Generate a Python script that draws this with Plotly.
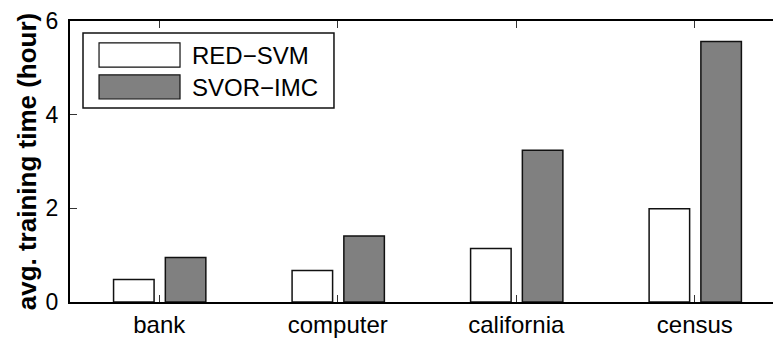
import plotly.graph_objects as go

categories = ["bank", "computer", "california", "census"]
series_names = ["RED\u2212SVM", "SVOR\u2212IMC"]
red_svm = [0.48, 0.67, 1.14, 1.99]
svor_imc = [0.95, 1.41, 3.24, 5.56]
y_ticks = [0, 2, 4, 6]

positions = list(range(1, len(categories) + 1))
FONT = "Liberation Sans, Arial, Helvetica, sans-serif"

fig = go.Figure()
fig.add_trace(go.Bar(x=positions, y=red_svm, name=series_names[0],
                     width=0.227, offset=-0.256,
                     marker=dict(color="white", line=dict(color="#111", width=1.5)),
                     showlegend=False))
fig.add_trace(go.Bar(x=positions, y=svor_imc, name=series_names[1],
                     width=0.227, offset=0.034,
                     marker=dict(color="#808080", line=dict(color="#111", width=1.5)),
                     showlegend=False))

# custom legend (large swatches as in the reference)
box = dict(x0=0.0185, x1=0.3755, y0=0.690, y1=0.957)
fig.add_shape(type="rect", xref="paper", yref="paper", **box,
              line=dict(color="#111", width=1.5), fillcolor="white", layer="above")
swatches = [("white", 0.836, 0.922, 0.879), ("#808080", 0.7224, 0.808, 0.765)]
for name, (fill, y0, y1, ty) in zip(series_names, swatches):
    fig.add_shape(type="rect", xref="paper", yref="paper",
                  x0=0.0413, x1=0.1565, y0=y0, y1=y1,
                  line=dict(color="#111", width=1.2), fillcolor=fill, layer="above")
    fig.add_annotation(xref="paper", yref="paper", x=0.1707, y=ty,
                       text=name, showarrow=False, xanchor="left", yanchor="middle",
                       font=dict(family=FONT, size=24, color="black"))

fig.update_layout(
    width=773, height=338,
    margin=dict(l=70, r=0, t=21, b=36),
    paper_bgcolor="white", plot_bgcolor="white",
    barmode="overlay",
    font=dict(family=FONT, color="black", size=22),
    showlegend=False,
)
fig.update_xaxes(range=[0.5, 4.438], tickvals=positions, ticktext=categories,
                 automargin=False,
                 showline=True, linecolor="black", linewidth=2, mirror="ticks",
                 ticks="inside", ticklen=7, tickwidth=1, tickcolor="#333",
                 showgrid=False, zeroline=False, ticklabelstandoff=0,
                 tickfont=dict(family=FONT, size=24, color="black"))
fig.update_yaxes(range=[0, 6], tickvals=y_ticks, automargin=False,
                 showline=True, linecolor="black", linewidth=2,
                 ticks="inside", ticklen=7, tickwidth=1, tickcolor="#333",
                 showgrid=False, zeroline=False, ticklabelstandoff=5,
                 tickfont=dict(family=FONT, size=23, color="black"),
                 title=dict(text="<b>avg. training time (hour)</b>", standoff=2,
                            font=dict(family=FONT, size=26, color="black")))

fig.write_html("out.html", config={"displayModeBar": False},
               post_script="document.body.style.margin='0';document.body.style.padding='0';")
